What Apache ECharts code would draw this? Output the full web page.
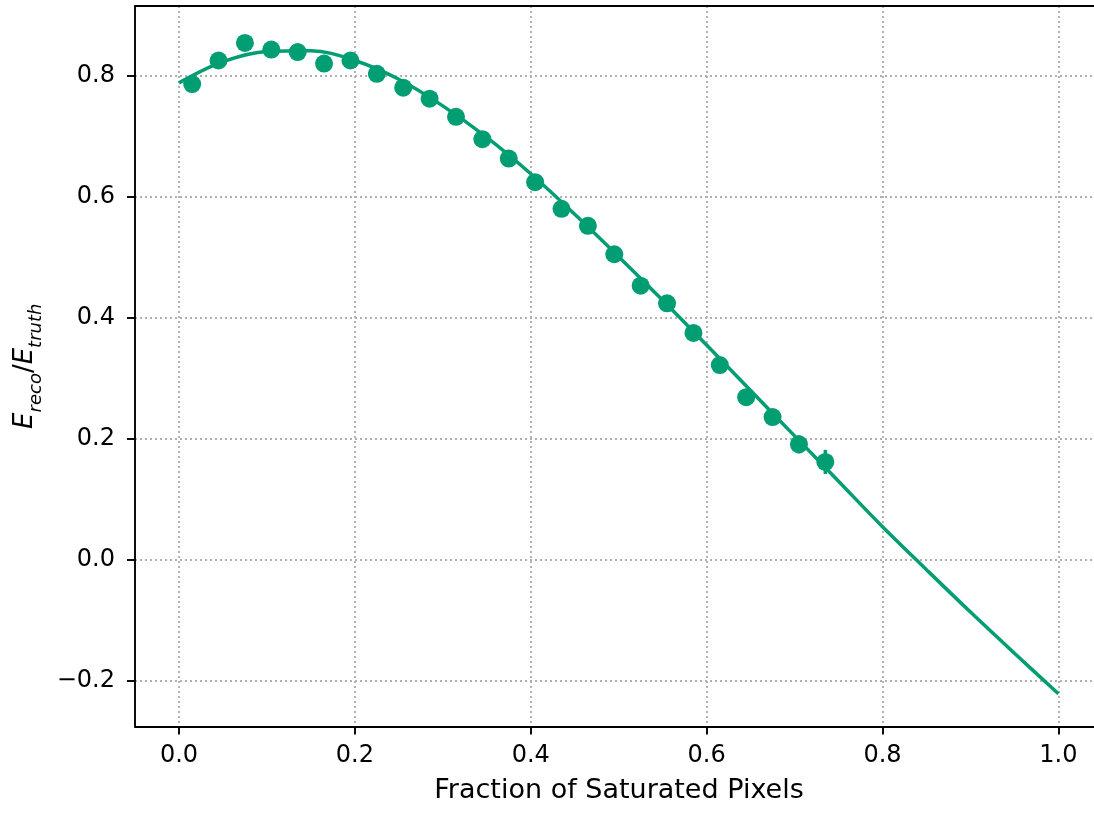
<!DOCTYPE html>
<html><head><meta charset="utf-8">
<script src="https://cdn.jsdelivr.net/npm/echarts@6/dist/echarts.min.js"></script>
<style>html,body{margin:0;padding:0;background:#fff}#c{width:1094px;height:813px}</style>
</head><body><div id="c"></div>
<script>
// measured points (fraction of saturated pixels, E_reco/E_truth, error)
const pointX = [0.015,0.045,0.075,0.105,0.135,0.165,0.195,0.225,0.255,0.285,0.315,0.345,0.375,0.405,0.435,0.465,0.495,0.525,0.555,0.585,0.615,0.645,0.675,0.705,0.735];
const pointY = [0.786,0.825,0.854,0.843,0.839,0.820,0.825,0.803,0.780,0.762,0.732,0.695,0.663,0.624,0.580,0.552,0.505,0.453,0.424,0.375,0.322,0.269,0.236,0.191,0.162];
const pointErr = [0.004,0.004,0.004,0.004,0.004,0.004,0.004,0.004,0.004,0.004,0.004,0.004,0.005,0.005,0.005,0.005,0.006,0.006,0.007,0.007,0.008,0.009,0.011,0.015,0.020];
// fitted curve
const fitX = [0.00,0.05,0.10,0.15,0.20,0.25,0.30,0.35,0.40,0.45,0.50,0.55,0.60,0.65,0.70,0.75,0.80,0.85,0.90,0.95,1.00];
const fitY = [0.788,0.823,0.840,0.841,0.825,0.794,0.750,0.698,0.638,0.571,0.501,0.429,0.355,0.280,0.205,0.130,0.055,-0.016,-0.086,-0.154,-0.221];
const xTicks = [0.0,0.2,0.4,0.6,0.8,1.0];
const yTicks = [-0.2,0.0,0.2,0.4,0.6,0.8];
const xLabel = 'Fraction of Saturated Pixels';

const GREEN = '#029e73';
const FONT = 'DejaVu Sans';
const X_MIN = -0.05, X_MAX = 1.0405, Y_MIN = -0.275, Y_MAX = 0.915;
const fmt = v => (v < 0 ? '\u2212' : '') + Math.abs(v).toFixed(1);

const chart = echarts.init(document.getElementById('c'), null, {renderer: 'canvas'});
const gridLine = {show: true, lineStyle: {color: '#b0b0b0', width: 1.9, type: [2, 3]}};
const spine = {show: true, onZero: false, lineStyle: {color: '#000', width: 1.9}};
chart.setOption({
  animation: false,
  backgroundColor: '#fff',
  grid: {left: 135, top: 6, right: 0, bottom: 86.5, show: false},
  xAxis: [{
    type: 'value', min: X_MIN, max: X_MAX,
    axisLine: spine,
    axisTick: {show: true, customValues: xTicks, length: 8, lineStyle: {color: '#000', width: 1.9}},
    axisLabel: {customValues: xTicks, formatter: fmt, fontSize: 24, fontFamily: FONT, color: '#000', margin: 17},
    splitLine: gridLine,
    name: xLabel, nameLocation: 'middle', nameGap: 51,
    nameTextStyle: {fontSize: 27, fontFamily: FONT, color: '#000', padding: [0, 0, 0, 9]}
  }, {
    type: 'value', position: 'top', min: X_MIN, max: X_MAX,
    axisLine: spine, axisTick: {show: false}, axisLabel: {show: false}, splitLine: {show: false}
  }],
  yAxis: {
    type: 'value', min: Y_MIN, max: Y_MAX,
    axisLine: spine,
    axisTick: {show: true, customValues: yTicks, length: 8, lineStyle: {color: '#000', width: 1.9}},
    axisLabel: {customValues: yTicks, formatter: fmt, fontSize: 24, fontFamily: FONT, color: '#000', margin: 20},
    splitLine: gridLine,
    name: '{e|E}{s|reco}{sl|/}{e|E}{s|truth}',
    nameLocation: 'middle', nameRotate: 90, nameGap: 98,
    nameTextStyle: {
      color: '#000', fontFamily: FONT, align: 'center', verticalAlign: 'top',
      rich: {
        e: {fontSize: 26, fontStyle: 'italic', fontFamily: FONT, color: '#000', lineHeight: 30, verticalAlign: 'top'},
        sl: {fontSize: 26, fontFamily: FONT, color: '#000', lineHeight: 30, verticalAlign: 'top'},
        s: {fontSize: 18, fontStyle: 'italic', fontFamily: FONT, color: '#000', lineHeight: 34, verticalAlign: 'bottom'}
      }
    }
  },
  series: [
    {
      type: 'line', data: fitX.map((x, i) => [x, fitY[i]]), smooth: 0.35, showSymbol: false,
      lineStyle: {color: GREEN, width: 3.5}, z: 2
    },
    {
      type: 'custom', z: 3,
      data: pointX.map((x, i) => [x, pointY[i], pointErr[i]]),
      renderItem: function (params, api) {
        const x = api.value(0), y = api.value(1), e = api.value(2);
        const p1 = api.coord([x, y - e]);
        const p2 = api.coord([x, y + e]);
        return {type: 'line', shape: {x1: p1[0], y1: p1[1], x2: p2[0], y2: p2[1]},
                style: {stroke: GREEN, lineWidth: 3.5}};
      }
    },
    {
      type: 'scatter', data: pointX.map((x, i) => [x, pointY[i]]), symbol: 'circle', symbolSize: 18,
      itemStyle: {color: GREEN, opacity: 1}, z: 4
    }
  ]
});
</script>
</body></html>
